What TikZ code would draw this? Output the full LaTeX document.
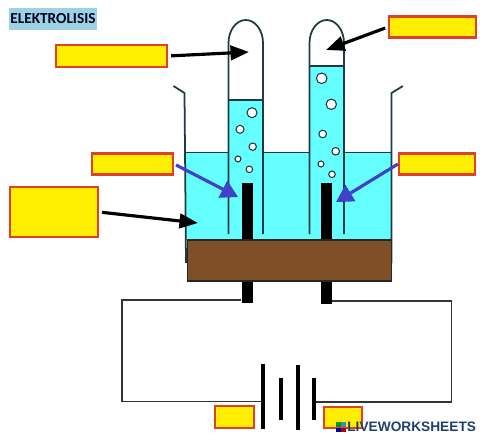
\documentclass[tikz,border=0pt]{standalone}
\usepackage{fontspec}
\setmainfont{Carlito}
\newfontfamily\markfont{Liberation Sans}
\usetikzlibrary{arrows.meta}
\definecolor{water}{HTML}{66FFFF}
\definecolor{soil}{HTML}{7F5028}
\definecolor{wall}{HTML}{1F3A40}
\definecolor{labelfill}{HTML}{FFEE00}
\definecolor{labelline}{HTML}{E0402A}
\definecolor{titlefill}{HTML}{9CD3E3}
\definecolor{pointer}{HTML}{4040C8}
\definecolor{markblue}{HTML}{1F3F6E}

\begin{document}
\begin{tikzpicture}[
    x=.02cm, y=-.02cm,
    blank/.style={draw=labelline, fill=labelfill, line width=1.2pt, inner sep=0pt},
    electrode/.style={fill=black, inner sep=0pt, minimum width=.23cm},
    glass/.style={draw=wall, line width=1pt},
    bubble/.style={draw=wall, fill=white, line width=.6pt},
    plate/.style={line width=2pt},
    wire/.style={draw=black!80, line width=1pt},
    arrow/.style={-{Triangle[length=.37cm,width=.29cm]}, line width=1.8pt, shorten <=1.7pt},
    bluearrow/.style={-{Triangle[length=.34cm,width=.37cm]}, pointer, line width=1.8pt}
  ]
    \useasboundingbox (0,0) rectangle (480,436);

    % water
    \fill[water] (185.5,152.5) rectangle (391.5,240);
    \draw[glass] (185.5,152.5) -- (391.5,152.5);
    \fill[white] (228.5,100) -- (228.5,43) arc (180:360:17.25 and 23) -- (263,100) -- cycle;
    \fill[white] (309.5,66) -- (309.5,43) arc (180:360:17.25 and 23) -- (344,66) -- cycle;
    \fill[water] (228.5,100) rectangle (263,240);
    \fill[water] (309.5,66) rectangle (344,240);

    % tubes
    \draw[glass] (228.5,234) -- (228.5,43) arc (180:360:17.25 and 23) -- (263,234);
    \draw[glass] (309.5,234) -- (309.5,43) arc (180:360:17.25 and 23) -- (344,234);
    \draw[glass] (228.5,100) -- (263,100);
    \draw[glass] (309.5,66) -- (344,66);

    % beaker
    \draw[glass] (173.5,86) -- (184.5,93) -- (186,263);
    \draw[glass] (403,86) -- (391.5,93) -- (391.5,263);

    % bubbles
    \foreach \x/\y/\r in {252/112.7/5,240/129.3/4,252.7/146.7/3.7,238/159/3,249.3/169.3/3.3,
      321.7/78.3/5.3,331.3/104.3/5.2,322.7/134/3.8,335.7/151.3/3.8,321/164/3,332/174.3/3.3} {
      \draw[bubble] (\x,\y) circle (\r);
    }

    % electrodes and base
    \node[electrode, minimum height=2.4cm] (leftrod) at (247.3,243) {};
    \node[electrode, minimum height=2.42cm] (rightrod) at (326.3,243.5) {};
    \node[draw=black!85, fill=soil, line width=.8pt, inner sep=0pt, minimum width=4.08cm,
      minimum height=.82cm] (base) at (289.5,260.5) {};

    % circuit
    \coordinate (leftcell) at (263,401.5);
    \coordinate (rightcell) at (314,402);
    \draw[wire] (leftrod.south west) ++(0,-3) -| (122,401.5) -- (leftcell);
    \draw[wire] (rightrod.south east) ++(0,-3) -| (451.5,402) -- (rightcell);
    \draw[plate] (leftcell) ++(0,-37.5) -- ++(0,65);
    \draw[plate] (281,378) -- (281,420);
    \draw[plate] (298,365) -- (298,430);
    \draw[plate] (rightcell) ++(0,-24) -- ++(0,42);

    % labels
    \node[fill=titlefill, inner sep=0pt, minimum width=1.76cm, minimum height=.44cm,
      text=black!85!blue, font=\bfseries\fontsize{8.7}{10}\selectfont] (title) at (53,19) {ELEKTROLISIS};
    \node[blank, minimum width=2.22cm, minimum height=.44cm] (gasleft) at (111.5,56) {};
    \node[blank, minimum width=1.74cm, minimum height=.42cm] (gasright) at (432.5,27) {};
    \node[blank, minimum width=1.62cm, minimum height=.42cm] (anode) at (132.5,164) {};
    \node[blank, minimum width=1.52cm, minimum height=.42cm] (cathode) at (437,164) {};
    \node[blank, minimum width=1.76cm, minimum height=1cm] (liquid) at (54,212) {};
    \node[blank, minimum width=.78cm, minimum height=.44cm] (minus) at (234.5,417) {};
    \node[blank, minimum width=.76cm, minimum height=.42cm] (plus) at (343,417.7) {};

    % pointers
    \coordinate (gastipleft) at (249,52);
    \coordinate (gastipright) at (326,50);
    \coordinate (liquidtip) at (198,223);
    \coordinate (anodetip) at (238,197);
    \coordinate (cathodetip) at (336,202);
    \draw[arrow] (gasleft.east) -- (gastipleft);
    \draw[arrow] (gasright.west) -- (gastipright);
    \draw[arrow] (liquid.east) -- (liquidtip);
    \draw[bluearrow] (anode.east) ++(2,1) -- (anodetip);
    \draw[bluearrow] (cathode.west) -- (cathodetip);

    % watermark
    \foreach \x/\y/\c in {336/422/green!60!black,341/422/cyan!70!black,336/427.5/blue!70!black,341/427.5/red!70!black} {
      \fill[\c] (\x,\y) rectangle ++(4.5,4.5);
    }
    \node[inner sep=0pt, anchor=west, text=markblue, font=\markfont\bfseries\fontsize{7.8}{9}\selectfont] (mark) at (347,426.5) {LIVEWORKSHEETS};
  \end{tikzpicture}
\end{document}
